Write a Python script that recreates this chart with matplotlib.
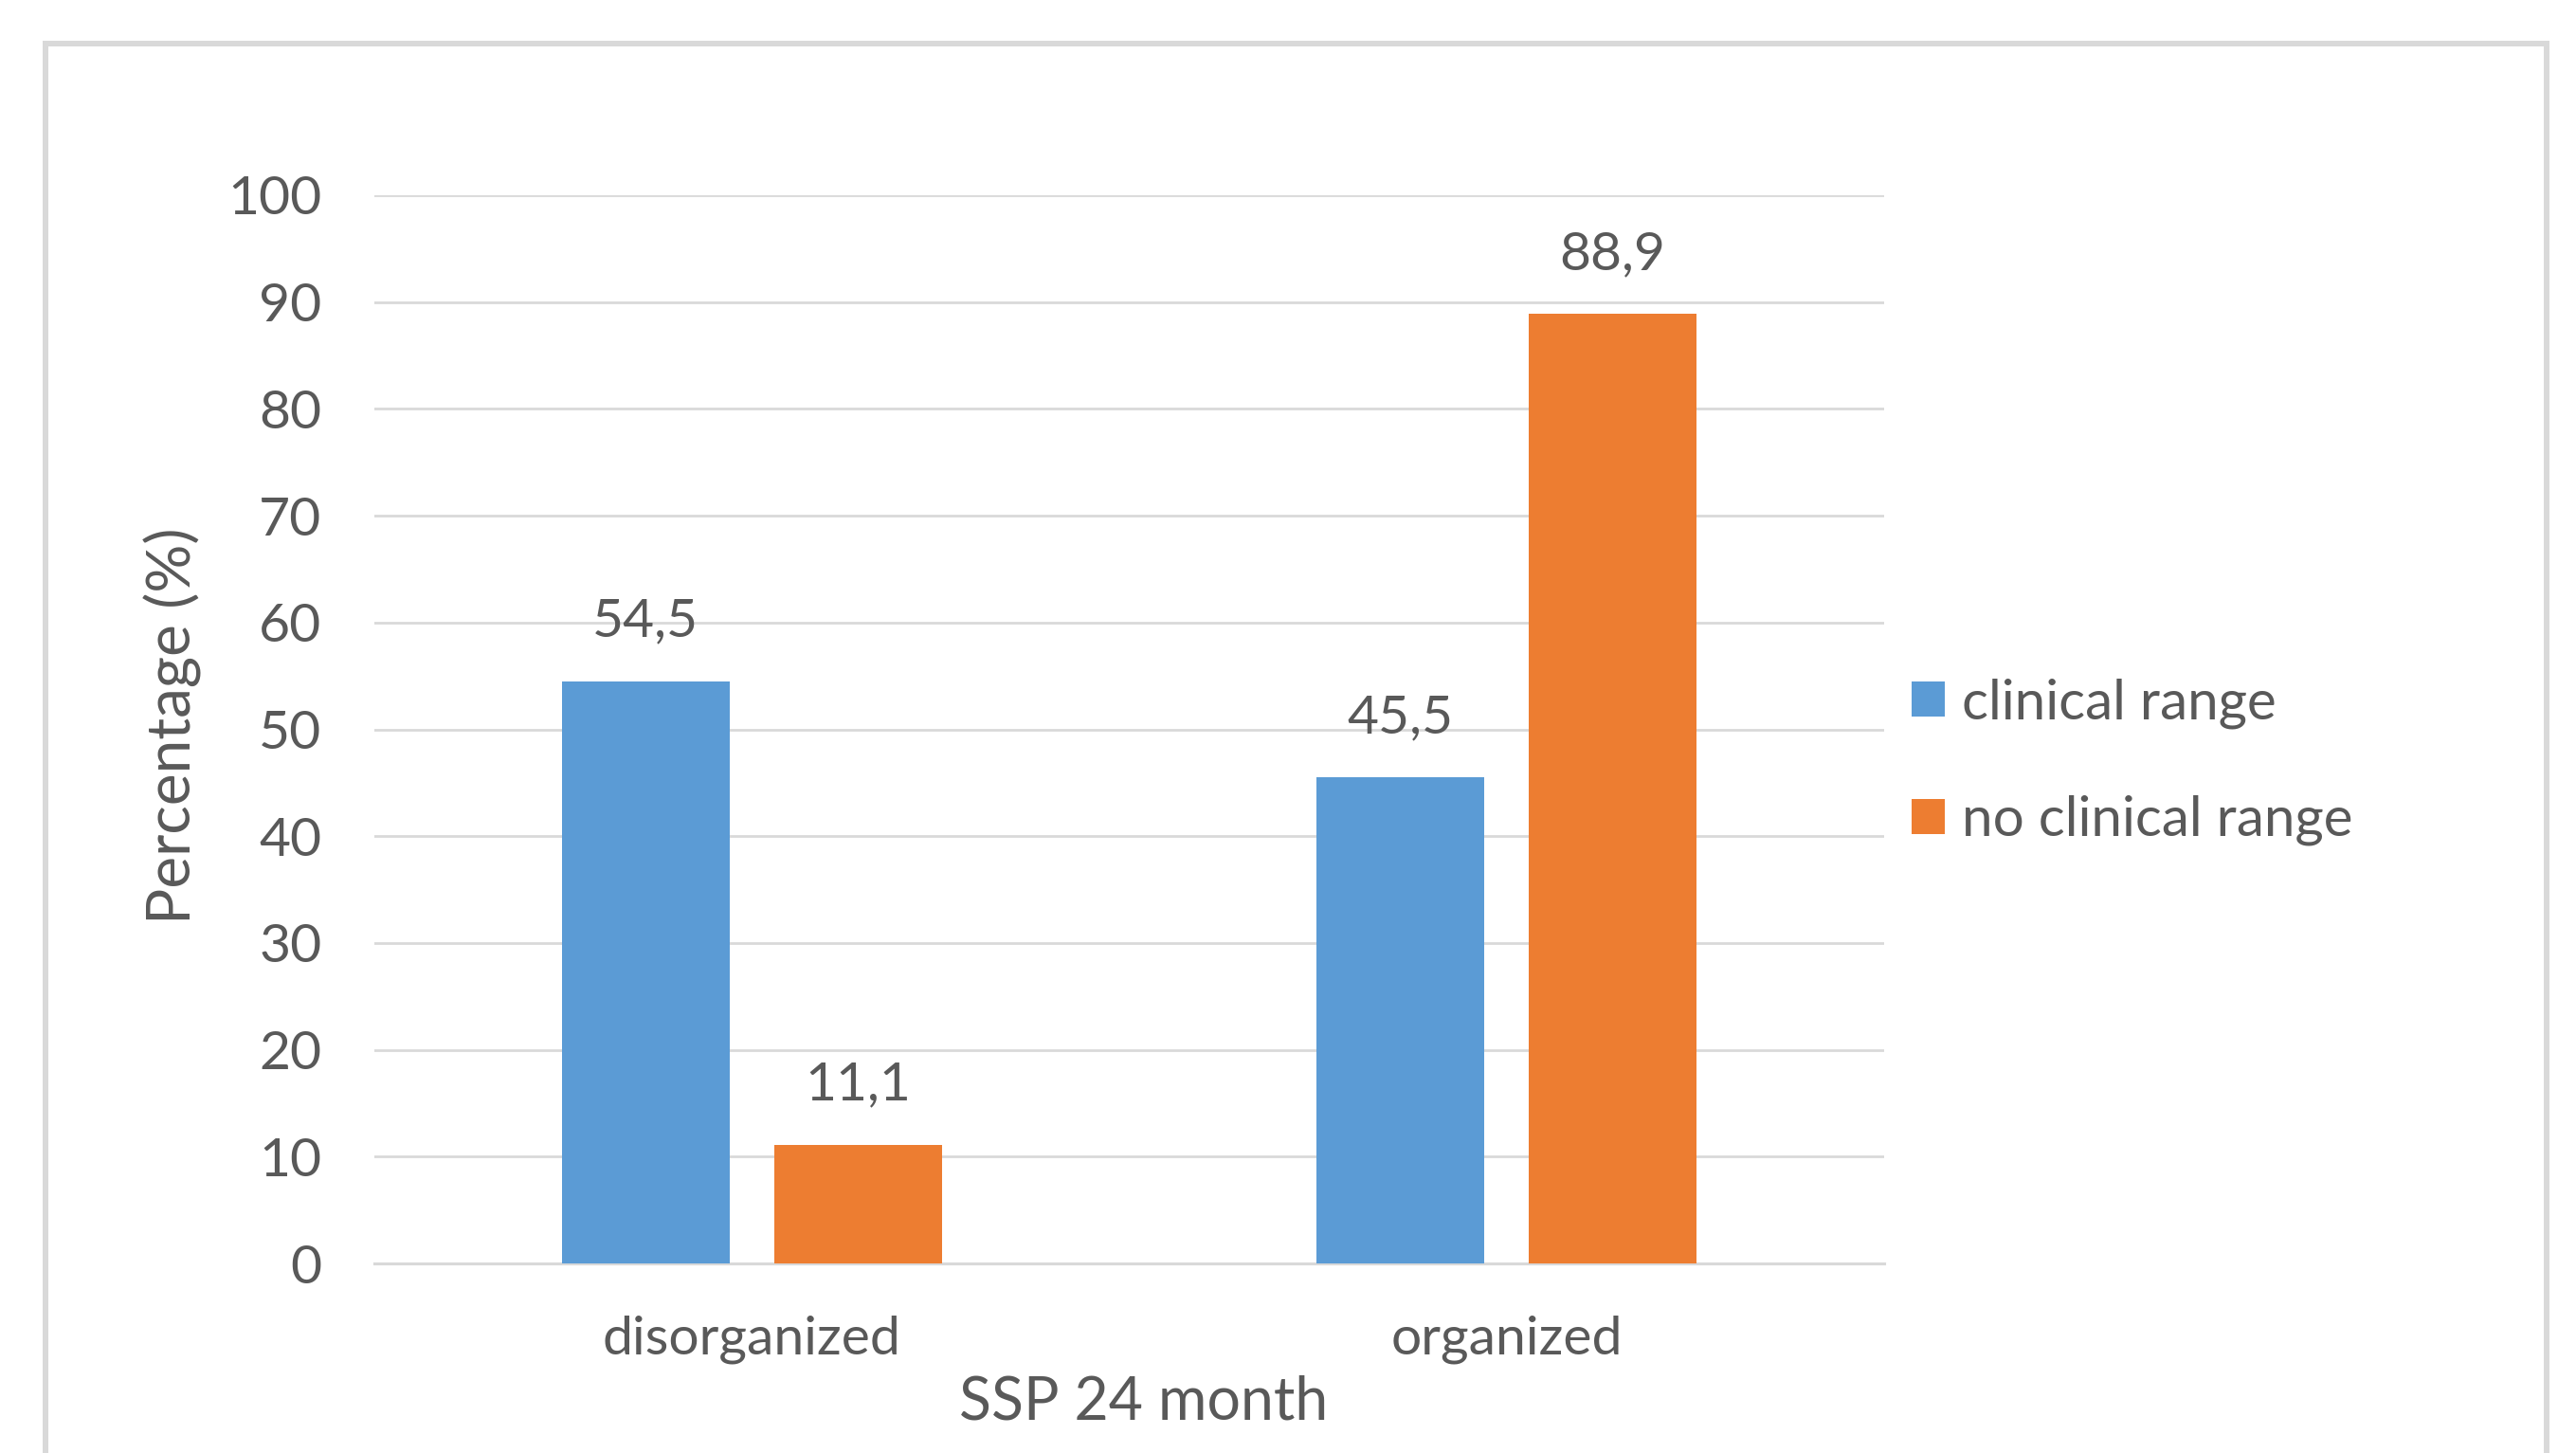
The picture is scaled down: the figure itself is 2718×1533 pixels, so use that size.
import numpy as np
import matplotlib
matplotlib.use('Agg')
import matplotlib.pyplot as plt
from matplotlib.patches import Rectangle, Patch

# dados
categorias = ['disorganized', 'organized']
series = ['clinical range', 'no clinical range']
clinical_range = [54.5, 45.5]
no_clinical_range = [11.1, 88.9]
yticks = [0, 10, 20, 30, 40, 50, 60, 70, 80, 90, 100]

COR_TEXTO = '#595959'
COR_GRADE = '#d9d9d9'
cores = ['#5B9BD5', '#ED7D31']

plt.rcParams['font.family'] = ['Lato', 'DejaVu Sans']

W, H = 2718, 1533
fig = plt.figure(figsize=(W / 100, H / 100), dpi=100)

# moldura cinza em volta do grafico
fig.patches.append(Rectangle((48 / W, -0.05), (2687 - 48) / W, 1 - 46 / H + 0.05,
                             transform=fig.transFigure, fill=False,
                             edgecolor=COR_GRADE, linewidth=4.3))

ax = fig.add_axes([395 / W, 1 - 1333 / H, (1988 - 395) / W, (1333 - 206) / H])

x = np.arange(len(categorias))
largura = 0.222
desloc = 0.1405

valores = [clinical_range, no_clinical_range]
for i, (nome, vals) in enumerate(zip(series, valores)):
    pos = x + (i * 2 - 1) * desloc
    barras = ax.bar(pos, vals, width=largura, color=cores[i], label=nome, zorder=3)
    for b, v in zip(barras, vals):
        ax.annotate(f'{v:.1f}'.replace('.', ','),
                    (b.get_x() + b.get_width() / 2, v),
                    xytext=(0, 34), textcoords='offset points',
                    ha='center', va='baseline', fontsize=41, color=COR_TEXTO)

ax.set_xlim(-0.5, 1.5)
ax.set_ylim(0, 100)
ax.set_yticks(yticks)
ax.set_xticks(x)
ax.set_xticklabels(categorias)
ax.tick_params(axis='both', length=0, labelsize=41, labelcolor=COR_TEXTO)
ax.tick_params(axis='y', pad=40)
ax.tick_params(axis='x', pad=39)

ax.set_axisbelow(True)
ax.yaxis.grid(True, color=COR_GRADE, linewidth=2)
for s in ['top', 'right', 'left']:
    ax.spines[s].set_visible(False)
ax.spines['bottom'].set_color(COR_GRADE)
ax.spines['bottom'].set_linewidth(2.2)

fig.text(182 / W, 1 - 766 / H, 'Percentage (%)', rotation=90, ha='center', va='center',
         fontsize=46, color=COR_TEXTO)
fig.text(1207 / W, 1 - 1497 / H, 'SSP 24 month', ha='center', va='baseline',
         fontsize=45, color=COR_TEXTO)

handles = [Patch(facecolor=c) for c in cores]
fig.legend(handles, series, loc='center left',
           bbox_to_anchor=(2017 / W, 1 - 804 / H), frameon=False,
           fontsize=42, labelcolor=COR_TEXTO, handlelength=0.6, handleheight=0.6,
           handletextpad=0.3, labelspacing=1.2, borderpad=0, borderaxespad=0)

fig.savefig('out.png', dpi=100, facecolor='white')
